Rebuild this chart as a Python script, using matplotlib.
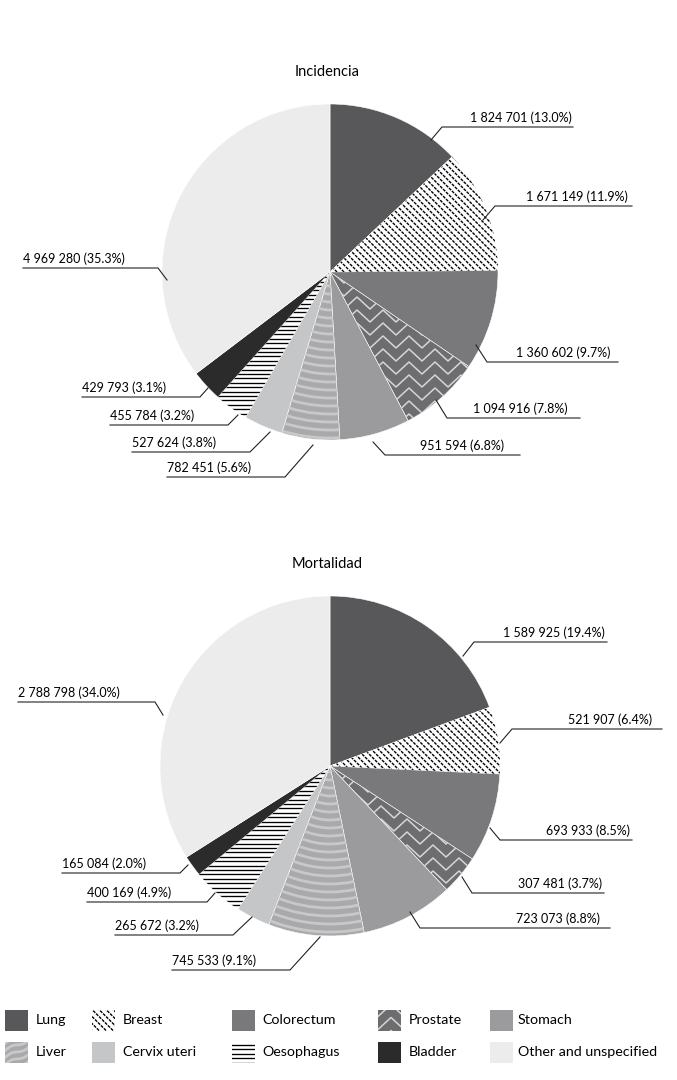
import matplotlib
matplotlib.use("Agg")

import numpy as np
import matplotlib.pyplot as plt
from matplotlib.patches import Rectangle, Circle

plt.rcParams["font.family"] = ["Lato", "DejaVu Sans"]

# cancer sites, clockwise from 12 o'clock
sites = ["Lung", "Breast", "Colorectum", "Prostate", "Stomach", "Liver",
         "Cervix uteri", "Oesophagus", "Bladder", "Other and unspecified"]

incidence_cases = [1824701, 1671149, 1360602, 1094916, 951594, 782451,
                   527624, 455784, 429793, 4969280]
incidence_pct = [13.0, 11.9, 9.7, 7.8, 6.8, 5.6, 3.8, 3.2, 3.1, 35.3]

mortality_deaths = [1589925, 521907, 693933, 307481, 723073, 745533,
                    265672, 400169, 165084, 2788798]
mortality_pct = [19.4, 6.4, 8.5, 3.7, 8.8, 9.1, 3.2, 4.9, 2.0, 34.0]

# fill colours / patterns per site
colors = ["#58585a", "#ffffff", "#79797b", "#6d6d6f", "#9b9b9d",
          "#a9a9ab", "#c5c6c8", "#ffffff", "#2b2b2b", "#ebeceb"]
patterns = [None, "dots", None, "zigzag", None, "waves", None, "hlines", None, None]

W, H = 677, 1080


def Y(y):
    # pixel rows (top down) -> axes units (bottom up)
    return H - y


fig = plt.figure(figsize=(W / 100, H / 100), dpi=100)
ax = fig.add_axes([0, 0, 1, 1])


def add_pattern(kind, clip, x0, x1, y0, y1, center=None):
    arts = []
    if kind == "dots":
        for k in np.arange(x0 + y0 - 2 * (y1 - y0), x1 + y1, 7):
            ln, = ax.plot([k - y0, k - y1], [y0, y1], color="black", lw=1.0,
                          linestyle=(0, (2.2, 0.8)))
            arts.append(ln)
    elif kind == "hlines":
        for yy in np.arange(y0, y1, 4.4):
            ln, = ax.plot([x0, x1], [yy, yy], color="black", lw=0.95)
            arts.append(ln)
    elif kind == "zigzag":
        period, amp = 26, 12
        xs = np.arange(x0 - period, x1 + period, period / 2)
        for yy in np.arange(y0 - amp, y1 + amp, 13):
            ys = yy + amp * (np.arange(len(xs)) % 2)
            ln, = ax.plot(xs, ys, color="#d6d6d6", lw=1.1)
            arts.append(ln)
    elif kind == "waves":
        if center is not None:
            for r in np.arange(6, 200, 8):
                c = Circle(center, r, fill=False, edgecolor="#c8c8ca", lw=2.0)
                ax.add_patch(c)
                arts.append(c)
        else:
            for k in np.arange(y0 - 30, y1 + 10, 7):
                xx = np.linspace(x0, x1, 20)
                ln, = ax.plot(xx, k + 0.45 * (xx - x0) + 1.5 * np.sin((xx - x0) / 4),
                              color="#c8c8ca", lw=2.0)
                arts.append(ln)
    for a in arts:
        a.set_clip_path(clip)


def draw_pie(values, pcts, cx, cy, r, title, labels_right, labels_left):
    wedges, _ = ax.pie(values, startangle=90, counterclock=False,
                       center=(cx, Y(cy)), radius=r, colors=colors,
                       wedgeprops=dict(edgecolor="white", linewidth=0.4))
    for w, kind in zip(wedges, patterns):
        if kind:
            add_pattern(kind, w, cx - r, cx + r, Y(cy) - r, Y(cy) + r,
                        center=(cx, Y(cy)))
    ax.text(cx - 3, Y(cy - r - 32), title, ha="center", va="center", fontsize=10.5)

    texts = [f"{v:,}".replace(",", " ") + f" ({p:.1f}%)" for v, p in zip(values, pcts)]
    for i, (tx, ly, ex, lend, tip) in labels_right.items():
        ax.plot([tip[0], ex, lend], [Y(tip[1]), Y(ly), Y(ly)], color="#222222", lw=0.8)
        ax.text(tx, Y(ly) + 3, texts[i], ha="right", va="bottom", fontsize=9)
    for i, (tx, ly, ex, tip) in labels_left.items():
        ax.plot([tip[0], ex, tx], [Y(tip[1]), Y(ly), Y(ly)], color="#222222", lw=0.8)
        ax.text(tx, Y(ly) + 3, texts[i], ha="left", va="bottom", fontsize=9)


# label layout: index -> (text x, line y, elbow x, line end / start, tip)
inc_right = {0: (572, 127, 442, 573, (431, 140)),
             1: (628, 206, 495, 632, (483, 220)),
             2: (610, 362, 487, 618, (476, 345)),
             3: (568, 418, 447, 580, (436, 400)),
             4: (504, 455, 385, 520, (373, 442))}
inc_left = {5: (167, 477, 285, (313, 445)),
            6: (132, 452, 250, (270, 432)),
            7: (110, 425, 228, (238, 415)),
            8: (82, 397, 200, (208, 388)),
            9: (23, 268, 158, (167, 280))}

mort_right = {0: (605, 642, 474, 607, (463, 656)),
              1: (652, 729, 512, 662, (500, 743)),
              2: (630, 840, 500, 632, (490, 828)),
              3: (602, 893, 472, 604, (462, 877)),
              4: (600, 928, 420, 610, (410, 912))}
mort_left = {5: (172, 970, 290, (320, 937)),
             6: (115, 935, 233, (252, 917)),
             7: (87, 902, 207, (215, 893)),
             8: (62, 873, 180, (188, 865)),
             9: (18, 702, 155, (163, 715))}

draw_pie(incidence_cases, incidence_pct, 330, 272, 168, "Incidencia", inc_right, inc_left)
draw_pie(mortality_deaths, mortality_pct, 330, 766, 170, "Mortalidad", mort_right, mort_left)

# legend, two rows of five
patch_x = [5, 92, 232, 378, 490]
text_x = [36, 123, 262, 409, 518]
row_y = [1020, 1052]
for i, name in enumerate(sites):
    row, col = divmod(i, 5)
    x0, yc = patch_x[col], Y(row_y[row])
    rect = Rectangle((x0, yc - 10.5), 23, 21, facecolor=colors[i], edgecolor="none")
    ax.add_patch(rect)
    if patterns[i]:
        add_pattern(patterns[i], rect, x0, x0 + 23, yc - 10.5, yc + 10.5)
    ax.text(text_x[col], yc, name, ha="left", va="center", fontsize=10.3)

ax.set_xlim(0, W)
ax.set_ylim(0, H)
ax.set_aspect("equal")
ax.axis("off")

fig.savefig("out.png", dpi=100)
